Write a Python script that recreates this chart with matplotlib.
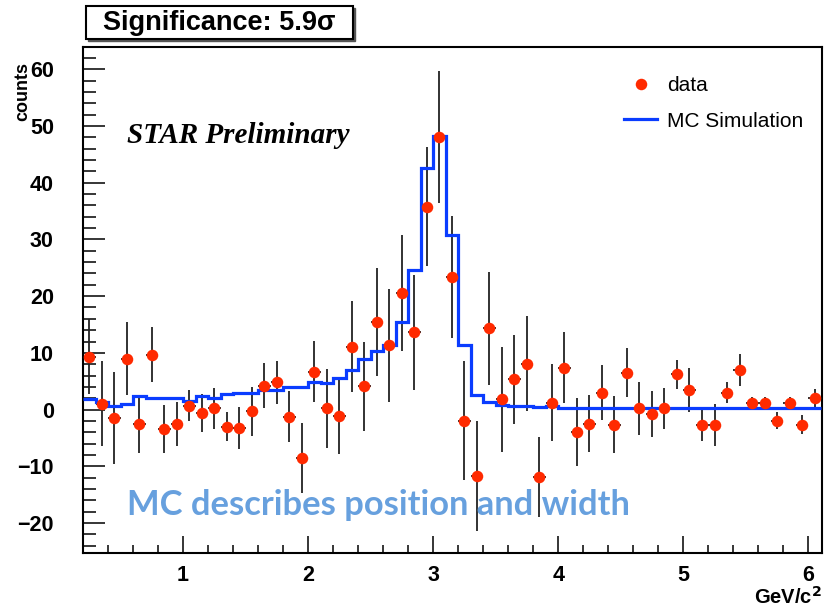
import numpy as np
import matplotlib
matplotlib.use("Agg")
import matplotlib.pyplot as plt
from matplotlib.patches import Rectangle
from matplotlib.lines import Line2D
from matplotlib.ticker import MultipleLocator

# histogram binning: 59 bins of 0.1 GeV/c^2 from 0.2
edges = np.round(np.arange(0.2, 6.1501, 0.1), 2)[:60]
centers = (edges[:-1] + edges[1:]) / 2

counts = [9.3, 1.0, -1.5, 9.0, -2.6, 9.7, -3.4, -2.5,
          0.7, -0.6, 0.2, -3.0, -3.3, -0.3, 4.2, 4.8, -1.3, -8.6,
          6.7, 0.2, -1.1, 11.1, 4.1, 15.5, 11.3, 20.6, 13.6, 35.8,
          48.1, 23.4, -2.0, -11.8, 14.3, 1.8, 5.3, 8.1, -11.9, 1.2,
          7.4, -3.9, -2.5, 3.0, -2.7, 6.5, 0.2, -0.8, 0.2, 6.2,
          3.5, -2.7, -2.7, 3.0, 7.0, 1.2, 1.2, -2.0, 1.2, -2.7,
          2.1]
errors = [6.6, 7.5, 8.1, 6.5, 5.0, 4.9, 4.2, 3.9,
          2.8, 3.4, 3.6, 2.6, 3.7, 4.3, 4.0, 3.8, 4.5, 6.2,
          5.4, 7.0, 6.7, 8.0, 7.8, 9.5, 9.9, 10.2, 10.2, 10.5,
          11.7, 10.7, 10.5, 9.7, 10.0, 9.3, 7.9, 8.4, 7.0, 6.8,
          6.2, 6.0, 5.0, 4.9, 5.0, 4.3, 4.7, 4.1, 3.6, 2.6,
          3.9, 2.9, 3.7, 1.9, 2.8, 1.0, 1.0, 1.5, 1.0, 1.7,
          1.6]
mc = [1.9, 1.3, 0.7, 1.0, 2.4, 2.1, 2.1, 2.1,
      1.5, 2.3, 2.1, 2.8, 3.0, 3.0, 3.4, 3.4, 4.0, 4.0,
      4.8, 4.6, 5.6, 6.9, 9.0, 10.3, 11.3, 15.4, 24.7, 42.6,
      48.2, 30.7, 11.3, 2.5, 1.3, 0.8, 0.6, 0.6, 0.4, 0.7,
      0.3, 0.3, 0.3, 0.3, 0.3, 0.3, 0.3, 0.3, 0.3, 0.3,
      0.3, 0.3, 0.3, 0.3, 0.3, 0.3, 0.3, 0.3, 0.3, 0.3,
      0.3]

red = '#ff2a00'
blue = '#0a3cff'
sans = 'Liberation Sans'

fig = plt.figure(figsize=(8.27, 6.08), dpi=100)
ax = fig.add_axes([0.1004, 0.0905, 0.8936, 0.8327])

ax.errorbar(centers, counts, yerr=errors, xerr=0.05, fmt='none',
            ecolor='#222222', elinewidth=1.3, zorder=2)
ax.stairs(mc, edges, baseline=None, color=blue, lw=2.3, zorder=3)
ax.plot(centers, counts, 'o', color=red, ms=8.3, mew=0, zorder=4)

ax.set_xlim(0.2, 6.11)
ax.set_ylim(-25.3, 64)
ax.xaxis.set_major_locator(MultipleLocator(1))
ax.xaxis.set_minor_locator(MultipleLocator(0.2))
ax.yaxis.set_major_locator(MultipleLocator(10))
ax.yaxis.set_minor_locator(MultipleLocator(2))
ax.tick_params(axis='x', which='major', direction='in', length=12, width=1.1, pad=9)
ax.tick_params(axis='x', which='minor', direction='in', length=6, width=1.1)
ax.tick_params(axis='y', which='major', direction='in', length=16, width=1.1, pad=21)
ax.tick_params(axis='y', which='minor', direction='in', length=9, width=1.1)
for lab in ax.get_xticklabels() + ax.get_yticklabels():
    lab.set_family(sans)
    lab.set_weight('bold')
    lab.set_size(15.5)
for s in ax.spines.values():
    s.set_linewidth(1.5)

ax.text(0.552, 47.0, 'STAR Preliminary', family='Liberation Serif',
        style='italic', weight='bold', size=21, va='baseline')
ax.text(0.552, -18.6, 'MC describes position and width', family='Lato',
        weight='bold', size=24.8, color='#67a0de', va='baseline')

handles = [Line2D([], [], ls='none', marker='o', color=red, ms=8.3, mew=0),
           Line2D([], [], color=blue, lw=2.3)]
ax.legend(handles, ['data', 'MC Simulation'], loc='upper left',
          bbox_to_anchor=(624 / 827, 1 - 76 / 608), bbox_transform=fig.transFigure,
          frameon=False, handlelength=1.6, handletextpad=0.45,
          borderpad=0, borderaxespad=0, labelspacing=0.8,
          prop={'family': sans, 'size': 15})

fig.text(0.027, 0.898, 'counts', rotation=90, ha='center', va='top',
         weight='bold', size=13, family=sans)
fig.text(0.994, 1 - 604 / 608, r'GeV/c$^{\mathbf{2}}$', ha='right', va='baseline',
         weight='bold', size=14.5, family=sans)

# title pave with shadow
fig.patches.append(Rectangle((88 / 827, 1 - 41 / 608), 267 / 827, 33 / 608,
                             transform=fig.transFigure, color='#555555', zorder=5))
fig.patches.append(Rectangle((86 / 827, 1 - 39 / 608), 267 / 827, 33 / 608,
                             transform=fig.transFigure, facecolor='white',
                             edgecolor='black', lw=1.5, zorder=6))
fig.text(219.5 / 827, 1 - 23 / 608, 'Significance: 5.9σ', ha='center', va='center',
         weight='bold', size=19.5, family=sans, zorder=7)

fig.savefig('out.png', dpi=100)
